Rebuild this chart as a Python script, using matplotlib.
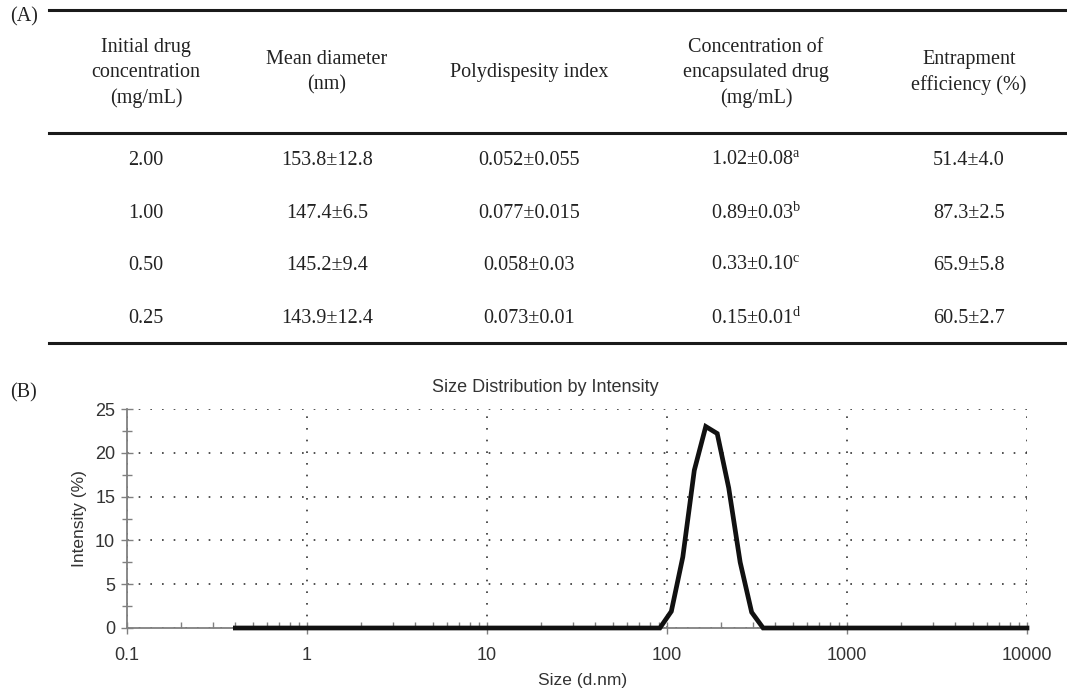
import matplotlib
matplotlib.use("Agg")
import matplotlib.pyplot as plt
from matplotlib.lines import Line2D
from matplotlib.ticker import LogLocator, MultipleLocator, NullFormatter

plt.rcParams['mathtext.fontset'] = 'custom'
plt.rcParams['mathtext.rm'] = 'Liberation Serif'

# (A) table data
headers = [["Initial drug", "concentration", "(mg/mL)"],
           ["Mean diameter", "(nm)"],
           ["Polydispesity index"],
           ["Concentration of", "encapsulated drug", "(mg/mL)"],
           ["Entrapment", "efficiency (%)"]]
drug_conc = ["2.00", "1.00", "0.50", "0.25"]
mean_diam = ["153.8±12.8", "147.4±6.5", "145.2±9.4", "143.9±12.4"]
pdi = ["0.052±0.055", "0.077±0.015", "0.058±0.03", "0.073±0.01"]
encap = ["1.02±0.08", "0.89±0.03", "0.33±0.10", "0.15±0.01"]
encap_sup = ["a", "b", "c", "d"]
efficiency = ["51.4±4.0", "87.3±2.5", "65.9±5.8", "60.5±2.7"]

# (B) size distribution by intensity
size_nm = [0.4, 91.28, 105.7, 122.4, 141.8, 164.2, 190.1, 220.2, 255.0, 295.3, 342.0, 10000]
intensity = [0, 0, 1.9, 8.1, 18.0, 23.0, 22.2, 16.0, 7.5, 1.8, 0, 0]
xticks = [0.1, 1, 10, 100, 1000, 10000]
xtick_labels = ["0.1", "1", "10", "100", "1000", "10000"]

W, H = 1067, 691
fig = plt.figure(figsize=(W / 100, H / 100), dpi=100)

# table drawn in pixel coordinates
tab = fig.add_axes([0, 0, 1, 1])
tab.set_xlim(0, W)
tab.set_ylim(H, 0)
tab.axis('off')

serif = 'Liberation Serif'
tcol = '#222222'
fs = 14.5
col_x = [146, 327, 529, 756, 969]

for y in [10, 133, 343]:
    tab.add_line(Line2D([49, W], [y, y], color='#1a1a1a', lw=2.2))

line_gap = 25.5
for cx, lines in zip(col_x, headers):
    y0 = 72.5 - (len(lines) - 1) * line_gap / 2
    for i, t in enumerate(lines):
        tab.text(cx, y0 + i * line_gap, t, ha='center', va='center',
                 fontsize=fs, family=serif, color=tcol)

row_y = [160, 213, 265, 318]
for r, y in enumerate(row_y):
    cells = [drug_conc[r], mean_diam[r], pdi[r],
             encap[r] + r"$^{\mathrm{" + encap_sup[r] + "}}$", efficiency[r]]
    for cx, t in zip(col_x, cells):
        tab.text(cx, y, t, ha='center', va='center', fontsize=fs,
                 family=serif, color=tcol)

tab.text(10, 17, "(A)", ha='left', va='center', fontsize=fs, family=serif, color=tcol)
tab.text(10, 393, "(B)", ha='left', va='center', fontsize=fs, family=serif, color=tcol)

# size distribution plot
ax = fig.add_axes([127 / W, 1 - 628 / H, 900 / W, 219 / H])
ax.plot(size_nm, intensity, color='#111111', lw=3.4, solid_joinstyle='miter',
        clip_on=False, zorder=5)
ax.set_xscale('log')
ax.set_xlim(0.1, 10000)
ax.set_ylim(0, 25)
ax.set_xticks(xticks)
ax.set_xticklabels(xtick_labels)
ax.xaxis.set_minor_locator(LogLocator(base=10, subs=range(2, 10)))
ax.xaxis.set_minor_formatter(NullFormatter())
ax.yaxis.set_major_locator(MultipleLocator(5))
ax.yaxis.set_minor_locator(MultipleLocator(2.5))

sans = 'Liberation Sans'
gcol = '#808080'
for s in ['top', 'right']:
    ax.spines[s].set_visible(False)
for s in ['left', 'bottom']:
    ax.spines[s].set_color(gcol)
    ax.spines[s].set_linewidth(1.3)

ax.grid(True, which='major', linestyle=(0, (1, 6)), color='#333333', lw=1.2)
ax.tick_params(which='major', direction='inout', length=9, width=1, color=gcol,
               labelsize=13, labelcolor='#333333')
ax.tick_params(axis='x', which='major', pad=9)
ax.tick_params(axis='y', which='major', pad=4)
ax.tick_params(axis='y', which='minor', direction='inout', length=7, width=1, color=gcol)
ax.tick_params(axis='x', which='minor', direction='in', length=4, width=1, color=gcol)
for lab in ax.get_xticklabels() + ax.get_yticklabels():
    lab.set_family(sans)

ax.set_ylabel("Intensity (%)", family=sans, fontsize=12.5, color='#333333', labelpad=6)
fig.text(583 / W, 1 - 680 / H, "Size (d.nm)", ha='center', va='center',
         family=sans, fontsize=12.5, color='#333333')
fig.text(545 / W, 1 - 388 / H, "Size Distribution by Intensity", ha='center', va='center',
         family=sans, fontsize=13, color='#333333')

fig.savefig("out.png", dpi=100)
